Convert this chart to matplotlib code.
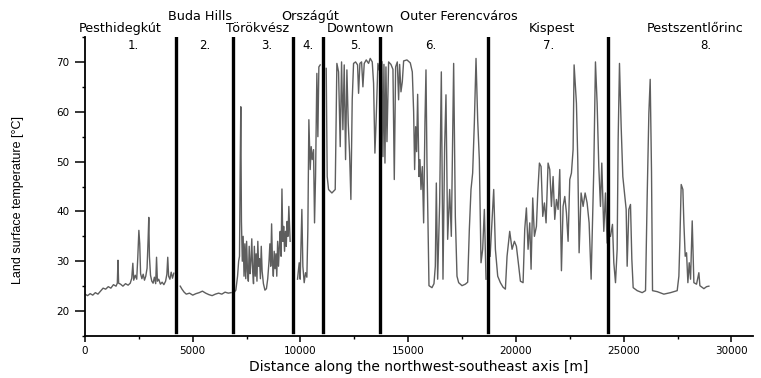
import matplotlib.pyplot as plt
from matplotlib.ticker import MultipleLocator
from matplotlib.transforms import blended_transform_factory

plt.rcParams['font.family'] = ['DejaVu Sans']

# land surface temperature profile, read off the figure zone by zone
# distance [m] / temperature [°C]
r1_dist = [0, 120, 240, 360, 480, 600, 720, 840, 960, 1080,
           1200, 1320, 1440, 1500, 1530, 1560, 1650, 1760, 1880, 2000,
           2100, 2170, 2220, 2260, 2330, 2400, 2450, 2500, 2540, 2580,
           2640, 2700, 2760, 2820, 2880, 2930, 2960, 2990, 3040, 3100,
           3160, 3220, 3280, 3320, 3360, 3420, 3500, 3580, 3660, 3740,
           3800, 3840, 3880, 3940, 4000, 4060, 4120]
r1_temp = [23.4, 23.1, 23.5, 23.2, 23.7, 23.4, 24.0, 24.6, 24.4, 24.9,
           24.6, 25.3, 25.0, 25.6, 30.2, 25.6, 25.4, 25.0, 25.5, 25.2,
           25.6, 26.6, 29.6, 26.2, 27.2, 26.4, 30.8, 36.2, 33.5, 27.5,
           26.5, 27.4, 26.2, 27.0, 28.6, 34.5, 38.8, 31.0, 27.2, 26.0,
           25.6, 26.8, 25.5, 30.8, 26.0, 26.4, 25.4, 25.8, 25.3, 26.0,
           27.4, 30.8, 27.0, 26.4, 27.8, 26.6, 27.6]

r2_dist = [4420, 4500, 4600, 4700, 4850, 5000, 5150, 5300, 5450, 5600,
           5750, 5900, 6050, 6200, 6350, 6500, 6650, 6780]
r2_temp = [25.0, 24.4, 23.8, 23.4, 23.6, 23.2, 23.5, 23.7, 24.0, 23.6,
           23.3, 23.1, 23.4, 23.6, 23.4, 23.8, 23.6, 23.7]

r3_dist = [6930, 7000, 7080, 7130, 7170, 7200, 7230, 7260, 7300, 7340,
           7380, 7420, 7460, 7500, 7540, 7580, 7620, 7660, 7700, 7740,
           7780, 7820, 7860, 7900, 7940, 7980, 8020, 8060, 8100, 8140,
           8180, 8220, 8280, 8350, 8420, 8480, 8540, 8580, 8620, 8660,
           8700, 8740, 8780, 8820, 8860, 8900, 8940, 8980, 9020, 9060,
           9100, 9140, 9180, 9220, 9260, 9300, 9340, 9380, 9420, 9460,
           9520]
r3_temp = [23.8, 24.2, 27.0, 30.0, 31.0, 48.0, 61.0, 38.0, 30.0, 35.0,
           27.0, 33.5, 26.5, 34.0, 28.0, 26.0, 33.0, 27.5, 30.0, 34.5,
           28.0, 25.5, 33.0, 27.0, 31.5, 26.0, 34.0, 29.0, 30.5, 26.5,
           33.0, 28.0, 25.5, 24.2, 24.5, 26.5, 30.0, 33.5, 29.0, 37.5,
           30.0, 27.0, 32.0, 28.5, 31.5, 27.0, 34.0, 29.0, 33.0, 36.0,
           31.0, 44.5, 34.0, 37.0, 32.0, 36.0, 33.0, 38.0, 35.0, 41.0,
           34.0]

r4_dist = [9863, 9940, 9986, 10064, 10110, 10172, 10234, 10296, 10342, 10389,
           10451, 10497, 10544, 10606, 10652, 10699, 10760, 10807, 10853, 10915]
r4_temp = [26.4, 29.7, 26.4, 40.4, 29.0, 25.7, 27.7, 26.8, 36.4, 58.4,
           48.4, 53.0, 50.4, 52.4, 37.7, 47.0, 67.7, 55.0, 69.0, 69.4]

r5_dist = [11194, 11240, 11302, 11457, 11612, 11689, 11767, 11844, 11906, 11968,
           12030, 12092, 12154, 12216, 12278, 12339, 12401, 12463, 12556, 12649,
           12696, 12757, 12835, 12897, 12959, 13052, 13160, 13237, 13330, 13392,
           13454, 13516, 13593, 13655]
r5_temp = [68.7, 47.0, 44.4, 43.7, 44.4, 69.7, 68.0, 53.0, 70.0, 56.4,
           69.4, 50.4, 68.4, 57.7, 51.7, 42.4, 62.4, 69.7, 70.0, 69.4,
           63.7, 69.7, 70.0, 65.0, 69.7, 70.4, 69.7, 70.7, 70.0, 65.7,
           51.7, 59.0, 69.7, 68.4]

r6_dist = [13780, 13827, 13873, 13920, 13966, 14013, 14090, 14198, 14291, 14353,
           14415, 14493, 14554, 14601, 14663, 14725, 14787, 14941, 15096, 15189,
           15251, 15297, 15344, 15390, 15437, 15499, 15545, 15592, 15654, 15715,
           15777, 15824, 15870, 15917, 15963, 16102, 16195, 16257, 16304, 16366,
           16458, 16536, 16613, 16690, 16752, 16830, 16923, 17000, 17108, 17186,
           17263, 17341, 17496, 17650, 17759, 17836, 17913, 17990, 18068, 18146,
           18223, 18300, 18378, 18455, 18533, 18610]
r6_temp = [70.0, 51.0, 69.5, 49.7, 69.0, 54.0, 70.0, 69.5, 68.5, 46.4,
           69.0, 70.0, 62.4, 69.5, 64.0, 66.0, 70.2, 70.4, 69.8, 68.0,
           60.0, 48.4, 57.0, 52.0, 63.5, 47.0, 50.4, 44.4, 49.0, 37.7,
           58.0, 68.4, 49.7, 37.7, 25.1, 24.7, 25.5, 29.0, 45.7, 26.4,
           41.7, 68.0, 26.4, 53.0, 63.4, 34.4, 44.4, 35.0, 69.7, 39.0,
           27.0, 25.7, 25.1, 25.4, 25.8, 36.4, 44.4, 47.7, 57.7, 70.7,
           58.4, 50.4, 29.7, 32.4, 40.4, 26.4]

r7_dist = [18800, 18967, 19045, 19153, 19277, 19400, 19509, 19586, 19710, 19819,
           19927, 20020, 20128, 20206, 20330, 20407, 20484, 20562, 20639, 20701,
           20778, 20856, 20949, 21011, 21088, 21165, 21243, 21320, 21397, 21490,
           21568, 21645, 21723, 21800, 21878, 21955, 22032, 22110, 22187, 22265,
           22342, 22419, 22497, 22574, 22651, 22698, 22806, 22868, 22930, 23023,
           23116, 23209, 23302, 23395, 23488, 23611, 23689, 23766, 23844, 23921,
           23983, 24076, 24153, 24230]
r7_temp = [31.0, 44.4, 32.4, 27.0, 25.7, 24.8, 24.4, 31.0, 36.0, 32.4,
           34.0, 33.0, 29.0, 26.0, 25.7, 36.4, 40.7, 32.4, 37.7, 28.4,
           42.7, 35.0, 37.0, 43.7, 49.7, 49.0, 39.0, 41.7, 37.7, 49.7,
           48.4, 41.0, 47.0, 38.4, 42.4, 40.4, 48.4, 28.1, 41.0, 43.0,
           39.7, 34.0, 46.4, 47.7, 52.4, 69.4, 61.7, 50.4, 31.7, 43.7,
           41.0, 43.7, 41.7, 37.7, 26.4, 48.4, 70.0, 61.7, 49.0, 41.0,
           49.7, 36.0, 43.7, 33.7]

r8_dist = [24386, 24479, 24541, 24619, 24696, 24742, 24804, 24882, 24959, 25036,
           25114, 25160, 25238, 25315, 25377, 25439, 25625, 25857, 26012, 26089,
           26167, 26229, 26290, 26337, 26554, 26863, 27173, 27482, 27560, 27606,
           27668, 27746, 27792, 27854, 27916, 27978, 28040, 28102, 28179, 28256,
           28380, 28488, 28535, 28721, 28845, 28953]
r8_temp = [35.0, 37.4, 29.7, 25.7, 32.4, 54.4, 69.7, 57.0, 47.0, 43.7,
           40.4, 29.0, 40.4, 41.4, 30.4, 24.7, 24.1, 23.7, 24.1, 43.0,
           59.7, 66.5, 48.0, 24.1, 23.9, 23.4, 23.7, 24.1, 27.0, 34.0,
           45.4, 44.4, 37.7, 31.0, 31.7, 25.7, 29.7, 26.4, 38.1, 25.7,
           25.4, 27.7, 25.1, 24.5, 24.9, 25.0]

zone_bounds = [4230, 6860, 9670, 11040, 13700, 18720, 24270]

upper_names = ["Buda Hills", "Országút", "Outer Ferencváros"]
upper_x = [5340, 10450, 17330]
lower_names = ["Pesthidegkút", "Törökvész", "Downtown", "Kispest", "Pestszentlőrinc"]
lower_x = [1630, 7990, 12770, 21650, 28330]
zone_nums = ["1.", "2.", "3.", "4.", "5.", "6.", "7.", "8."]
zone_x = [2230, 5570, 8450, 10360, 12540, 16030, 21510, 28800]

segments = [(r1_dist, r1_temp), (r2_dist, r2_temp), (r3_dist, r3_temp),
            (r4_dist, r4_temp), (r5_dist, r5_temp), (r6_dist, r6_temp),
            (r7_dist, r7_temp), (r8_dist, r8_temp)]

fig = plt.figure(figsize=(7.61, 3.78), dpi=100)
ax = fig.add_axes([85 / 761, 42 / 378, 668 / 761, 299 / 378])

for d, t in segments:
    assert len(d) == len(t)
    ax.plot(d, t, color='#5e5e5e', lw=1.0, zorder=2)

for b in zone_bounds:
    ax.axvline(b, ymin=0.012, ymax=1.0, color='black', lw=2.4, zorder=3)

ax.set_xlim(0, 31000)
ax.set_ylim(15, 75)
ax.set_xticks(range(0, 30001, 5000))
ax.set_yticks(range(20, 71, 10))
ax.xaxis.set_minor_locator(MultipleLocator(2500))
ax.yaxis.set_minor_locator(MultipleLocator(5))
ax.tick_params(axis='x', which='major', length=4.5, width=1.1, labelsize=7.5, pad=3)
ax.tick_params(axis='y', which='major', length=7, width=1.1, labelsize=7.5, pad=4)
ax.tick_params(which='minor', length=2.5, width=1.0)

for side in ['top', 'right']:
    ax.spines[side].set_visible(False)
for side in ['left', 'bottom']:
    ax.spines[side].set_linewidth(1.3)

ax.set_xlabel('Distance along the northwest-southeast axis [m]', fontsize=10)
ax.xaxis.set_label_coords(0.5, -0.080)
ax.set_ylabel('Land surface temperature [°C]', fontsize=9,
              family=['Liberation Sans', 'DejaVu Sans'])
ax.yaxis.set_label_coords(-0.092, 0.455)

trans = blended_transform_factory(ax.transData, ax.transAxes)
for name, x in zip(upper_names, upper_x):
    ax.text(x, 1.070, name, transform=trans, ha='center', va='center',
            fontsize=9.2, clip_on=False)
for name, x in zip(lower_names, lower_x):
    ax.text(x, 1.028, name, transform=trans, ha='center', va='center',
            fontsize=9.2, clip_on=False)
for num, x in zip(zone_nums, zone_x):
    ax.text(x, 0.970, num, transform=trans, ha='center', va='center',
            fontsize=8.5, clip_on=False)

fig.savefig('out.png', dpi=100)
